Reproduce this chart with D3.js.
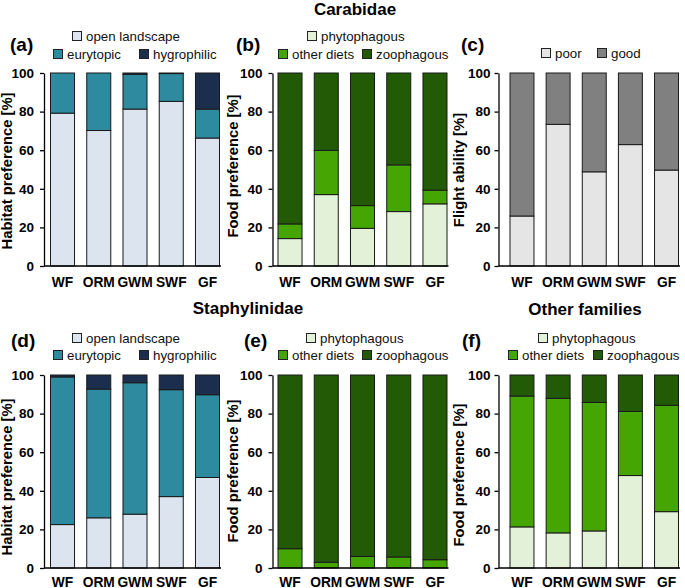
<!DOCTYPE html>
<html>
<head>
<meta charset="utf-8">
<script src="https://cdn.jsdelivr.net/npm/d3@7"></script>
<style>
  html, body { margin: 0; padding: 0; background: #fff; }
  svg { display: block; font-family: "Liberation Sans", Arial, sans-serif; }
</style>
</head>
<body>
<svg id="chart" width="685" height="588"></svg>
<script>
// ---------------- DATA ----------------
const sites = ["WF", "ORM", "GWM", "SWF", "GF"];
const yTicks = [0, 20, 40, 60, 80, 100];

// Carabidae - habitat preference (a)
const carabHabOpen  = [79.2, 70.2, 81.3, 85.3, 66.3];
const carabHabEury  = [20.8, 29.8, 18.0, 14.4, 15.0];
const carabHabHygro = [0.0, 0.0, 0.7, 0.3, 18.7];
// Carabidae - food preference (b)
const carabFoodPhyto = [14.2, 37.0, 19.5, 28.2, 32.2];
const carabFoodOther = [7.6, 22.9, 11.8, 24.2, 7.1];
const carabFoodZoo   = [78.2, 40.1, 68.7, 47.6, 60.7];
// Carabidae - flight ability (c)
const carabFlightPoor = [25.9, 73.4, 48.8, 62.9, 49.7];
const carabFlightGood = [74.1, 26.6, 51.2, 37.1, 50.3];
// Staphylinidae - habitat preference (d)
const staphHabOpen  = [22.5, 26.0, 27.9, 37.0, 46.9];
const staphHabEury  = [76.5, 66.7, 68.1, 55.4, 42.9];
const staphHabHygro = [1.0, 7.3, 4.0, 7.6, 10.2];
// Staphylinidae - food preference (e)
const staphFoodPhyto = [0, 0, 0, 0, 0];
const staphFoodOther = [10.0, 3.0, 6.0, 5.7, 4.3];
const staphFoodZoo   = [90.0, 97.0, 94.0, 94.3, 95.7];
// Other families - food preference (f)
const otherFoodPhyto = [21.3, 18.2, 19.2, 47.9, 29.2];
const otherFoodOther = [67.8, 69.7, 66.6, 33.2, 55.1];
const otherFoodZoo   = [10.9, 12.1, 14.2, 18.9, 15.7];

// series names
const habSeries    = ["open landscape", "eurytopic", "hygrophilic"];
const foodSeries   = ["phytophagous", "other diets", "zoophagous"];
const flightSeries = ["poor", "good"];

// ---------------- STYLE ----------------
const colors = {
  "open landscape": "#dce4f0",
  "eurytopic": "#2e8a9e",
  "hygrophilic": "#1b2e4e",
  "phytophagous": "#e3f1d9",
  "other diets": "#44a503",
  "zoophagous": "#235a06",
  "poor": "#e5e5e5",
  "good": "#808080"
};

const svg = d3.select("#chart");
const FONT = '"Liberation Sans", Arial, sans-serif';

// column / row geometry
const cols = [
  { axisX: 44,  r0: 50.5, r1: 219.5, tickPad: 6, titleX: 12 },
  { axisX: 272.5, r0: 278, r1: 447, tickPad: 6, titleX: 238 },
  { axisX: 498.5, r0: 510, r1: 678.5, tickPad: 4, titleX: 464 }
];
const rows = [
  { top: 73,  bottom: 266, xLabDy: 21 },
  { top: 375, bottom: 568, xLabDy: 18.5 }
];

function table(names, arrays) {
  return sites.map((s, i) => {
    const o = { site: s };
    names.forEach((n, k) => { o[n] = arrays[k][i]; });
    return o;
  });
}

const panels = [
  { col: 0, row: 0, label: "(a)", labelPos: [10, 51], yTitle: "Habitat preference [%]", titleCy: 171,
    names: habSeries, data: table(habSeries, [carabHabOpen, carabHabEury, carabHabHygro]),
    legend: [ { n: "open landscape", x: 72, y: 36 }, { n: "eurytopic", x: 53, y: 54 }, { n: "hygrophilic", x: 139, y: 54 } ] },
  { col: 1, row: 0, label: "(b)", labelPos: [236, 51], yTitle: "Food preference [%]", titleCy: 166,
    names: foodSeries, data: table(foodSeries, [carabFoodPhyto, carabFoodOther, carabFoodZoo]),
    legend: [ { n: "phytophagous", x: 307, y: 36 }, { n: "other diets", x: 278, y: 54 }, { n: "zoophagous", x: 362, y: 54 } ] },
  { col: 2, row: 0, label: "(c)", labelPos: [461, 51], yTitle: "Flight ability [%]", titleCy: 170,
    names: flightSeries, data: table(flightSeries, [carabFlightPoor, carabFlightGood]),
    legend: [ { n: "poor", x: 541, y: 53 }, { n: "good", x: 597, y: 53 } ] },
  { col: 0, row: 1, label: "(d)", labelPos: [11, 347], yTitle: "Habitat preference [%]", titleCy: 477,
    names: habSeries, data: table(habSeries, [staphHabOpen, staphHabEury, staphHabHygro]),
    legend: [ { n: "open landscape", x: 72, y: 338 }, { n: "eurytopic", x: 53, y: 355 }, { n: "hygrophilic", x: 139, y: 355 } ] },
  { col: 1, row: 1, label: "(e)", labelPos: [244, 347], yTitle: "Food preference [%]", titleCy: 471,
    names: foodSeries, data: table(foodSeries, [staphFoodPhyto, staphFoodOther, staphFoodZoo]),
    legend: [ { n: "phytophagous", x: 306, y: 338 }, { n: "other diets", x: 278, y: 355 }, { n: "zoophagous", x: 362, y: 355 } ] },
  { col: 2, row: 1, label: "(f)", labelPos: [462, 347], yTitle: "Food preference [%]", titleCy: 475,
    names: foodSeries, data: table(foodSeries, [otherFoodPhyto, otherFoodOther, otherFoodZoo]),
    legend: [ { n: "phytophagous", x: 538, y: 338 }, { n: "other diets", x: 508, y: 355 }, { n: "zoophagous", x: 593, y: 355 } ] }
];

panels.forEach(p => {
  const c = cols[p.col], r = rows[p.row];
  const g = svg.append("g");

  const x = d3.scaleBand().domain(sites).range([c.r0, c.r1]).paddingInner(1 - 24 / 36.2).paddingOuter(0);
  const y = d3.scaleLinear().domain([0, 100]).range([r.bottom, r.top]);

  // stacked bars
  const stack = d3.stack().keys(p.names)(p.data);
  stack.forEach(layer => {
    g.append("g").selectAll("rect")
      .data(layer.filter(d => d[1] - d[0] > 0))
      .join("rect")
      .attr("x", d => x(d.data.site))
      .attr("width", x.bandwidth())
      .attr("y", d => y(d[1]))
      .attr("height", d => y(d[0]) - y(d[1]))
      .attr("fill", colors[layer.key])
      .attr("stroke", "#1a1a1a")
      .attr("stroke-width", 1);
  });

  // y axis
  const yAxis = d3.axisLeft(y).tickValues(yTicks).tickSize(4).tickSizeOuter(0).tickPadding(c.tickPad);
  const ga = g.append("g").attr("transform", `translate(${c.axisX},0)`).call(yAxis);
  ga.select(".domain").attr("stroke", "#000").attr("stroke-width", 1.3);
  ga.selectAll(".tick line").attr("stroke", "#000").attr("stroke-width", 1.3);
  ga.selectAll("text").attr("font-family", FONT).attr("font-size", 13.5).attr("font-weight", "bold").attr("fill", "#000");

  // x axis
  const xAxis = d3.axisBottom(x).tickSize(0).tickSizeOuter(0).tickPadding(0);
  const gx = g.append("g").attr("transform", `translate(0,${r.bottom})`).call(xAxis);
  gx.select(".domain").remove();
  gx.selectAll(".tick text").attr("dy", null).attr("y", r.xLabDy)
    .attr("font-family", FONT).attr("font-size", 13.8).attr("font-weight", "bold").attr("fill", "#000");
  g.append("line").attr("x1", c.axisX).attr("x2", c.r1 + 1.5).attr("y1", r.bottom).attr("y2", r.bottom)
    .attr("stroke", "#000").attr("stroke-width", 1.3);

  // y title
  g.append("text")
    .attr("transform", `translate(${c.titleX},${p.titleCy}) rotate(-90)`)
    .attr("text-anchor", "middle")
    .attr("font-family", FONT).attr("font-size", 14.8).attr("font-weight", "bold")
    .text(p.yTitle);

  // panel label
  g.append("text").attr("x", p.labelPos[0]).attr("y", p.labelPos[1])
    .attr("font-family", FONT).attr("font-size", 19).attr("font-weight", "bold").text(p.label);

  // legend
  const lg = g.append("g").selectAll("g").data(p.legend).join("g")
    .attr("transform", d => `translate(${d.x},${d.y})`);
  lg.append("rect").attr("x", 0.5).attr("y", -4.5).attr("width", 9).attr("height", 9)
    .attr("fill", d => colors[d.n]).attr("stroke", "#222").attr("stroke-width", 1);
  lg.append("text").attr("x", 14).attr("y", 4.8)
    .attr("font-family", FONT).attr("font-size", 13.3).attr("fill", "#111").text(d => d.n);
});

// group titles
const titles = [
  { t: "Carabidae", x: 355, y: 15 },
  { t: "Staphylinidae", x: 248, y: 314 },
  { t: "Other families", x: 585, y: 315 }
];
svg.append("g").selectAll("text").data(titles).join("text")
  .attr("x", d => d.x).attr("y", d => d.y).attr("text-anchor", "middle")
  .attr("font-family", FONT).attr("font-size", 17).attr("font-weight", "bold").text(d => d.t);
</script>
</body>
</html>
